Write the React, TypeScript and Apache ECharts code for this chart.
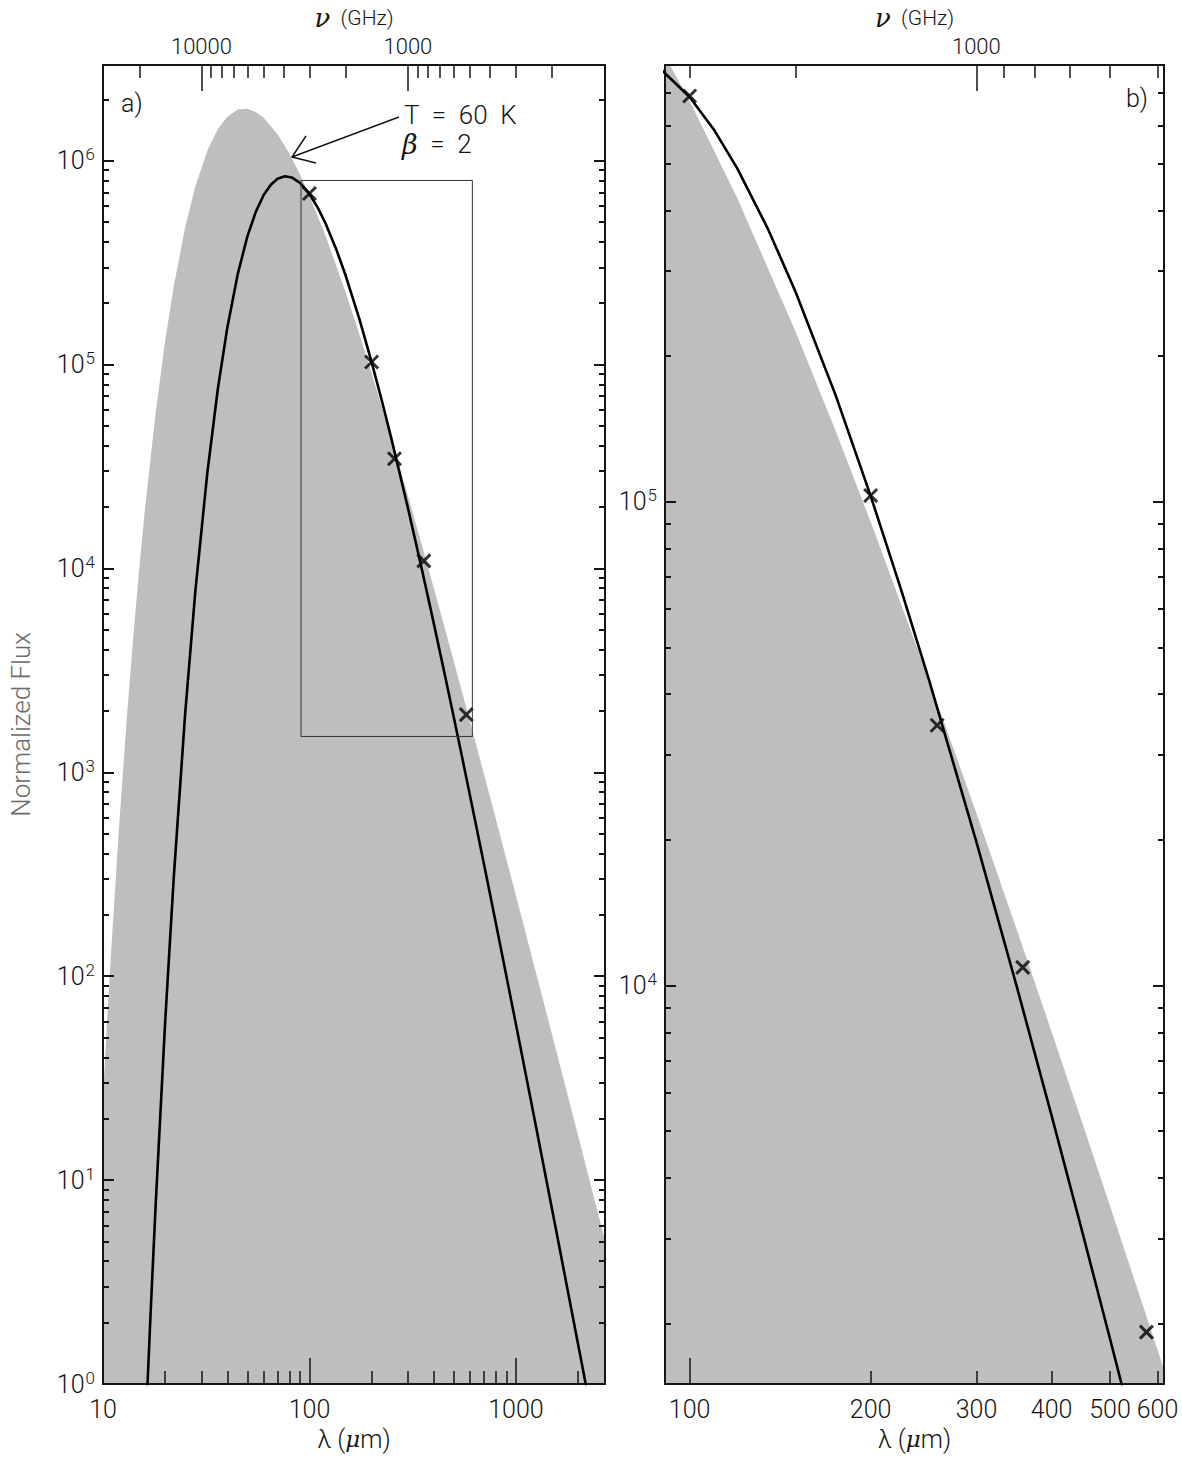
import React, { useEffect, useRef } from "react";
import * as echarts from "echarts";

// ---------- data ----------
// grey filled curve (T = 60 K, beta = 2 model)
const grayLambda = [10, 10.5, 11, 12, 13, 14, 15, 16, 18, 20, 22, 25, 28, 32, 36, 40, 45, 50, 55, 60, 70, 80, 90, 100, 120, 150, 175, 200, 250, 300, 350, 400, 450, 500, 600, 700, 800, 1000, 1500, 2000, 2700];
const grayFlux = [25.9, 63.7, 142.6, 568, 1770, 4561, 10120, 19900, 58400, 130700, 241500, 471300, 748000, 1118000, 1429000, 1644000, 1781000, 1797000, 1735000, 1623000, 1348000, 1081000, 854400, 673900, 424800, 224900, 139850, 90900, 42870, 22660, 13040, 8016, 5188, 3505, 1765, 981.4, 588.6, 248.7, 51.2, 16.53, 5.05];

// black fitted curve (Fit T = 29.3 K, beta = 3.4)
const fitLambda = [16, 17, 18, 20, 22, 25, 28, 32, 36, 40, 45, 50, 55, 60, 65, 70, 76, 82, 90, 100, 110, 120, 135, 150, 175, 200, 225, 250, 300, 350, 400, 450, 500, 550, 600, 700, 800, 1000, 1200, 1500, 1800, 2100, 2300];
const fitFlux = [0.536, 2.218, 7.65, 59.6, 301.8, 1942, 7715, 29370, 76120, 151700, 279400, 423900, 562700, 678600, 762900, 815300, 838300, 827800, 779000, 686800, 585300, 488900, 366200, 271800, 165700, 102850, 65520, 42860, 19760, 9941, 5377, 3086, 1862.6, 1172, 764.3, 355.1, 181.3, 58.1, 22.69, 7.1, 2.728, 1.213, 0.749];

// measured points (crosses)
const pointLambda = [100, 200, 258, 358, 575];
const pointFlux = [690000, 103000, 34500, 10900, 1920];

// axis ranges
const xRangeA = [10, 2700];
const yRangeA = [1, 2.95e6];
const xRangeB = [91, 615];
const yRangeB = [1500, 8e5];

// tick values
const lambdaMajorA = [10, 100, 1000];
const lambdaMinorA = [20, 30, 40, 50, 60, 70, 80, 90, 200, 300, 400, 500, 600, 700, 800, 900, 2000];
const nuMajorA = [10000, 1000];
const nuMinorA = [20000, 9000, 8000, 7000, 6000, 5000, 4000, 3000, 2000, 900, 800, 700, 600, 500, 400, 300, 200];
const fluxMajorA = [1, 10, 100, 1e3, 1e4, 1e5, 1e6];
const decadeSteps = [2, 3, 4, 5, 6, 7, 8, 9];
const fluxMinorA = fluxMajorA.flatMap((d) => decadeSteps.map((s) => s * d));

const lambdaMajorB = [100];
const lambdaLabelsB = [100, 200, 300, 400, 500, 600];
const lambdaMinorB = [200, 300, 400, 500, 600];
const nuMajorB = [1000];
const nuMinorB = [3000, 2000, 900, 800, 700, 600, 500];
const fluxMajorB = [1e4, 1e5];
const fluxMinorB = [1e3, 1e4, 1e5].flatMap((d) => decadeSteps.map((s) => s * d));

const C_LIGHT = 299792.458; // um * GHz
const lamOfNu = (nu: number) => C_LIGHT / nu;

// ---------- styles ----------
const INK = "#151515";
const GRAY = "#bebebe";
const FONT = "Roboto";
const CROSS = "path://M0,0L10,10M10,0L0,10";

const pairs = (xs: number[], ys: number[]) => xs.map((x, i) => [x, ys[i]]);

function axis(gridIndex: number, position: string, range: number[], ticks: number[], len: number, showLine: boolean, tickWidth: number, extra: any = {}) {
  return {
    type: "log",
    logBase: 10,
    gridIndex,
    position,
    min: range[0],
    max: range[1],
    axisLine: { show: showLine, onZero: false, lineStyle: { color: INK, width: 2 } },
    axisTick: { show: true, inside: true, length: len, customValues: ticks, lineStyle: { color: INK, width: tickWidth } },
    axisLabel: { show: false },
    splitLine: { show: false },
    minorTick: { show: false },
    minorSplitLine: { show: false },
    ...extra,
  };
}

const labelBase = { fontFamily: FONT, fontWeight: 300, color: INK };

const bottomLabels = (values: number[]) => ({
  show: true,
  customValues: values,
  margin: 13,
  fontSize: 25,
  ...labelBase,
  formatter: (v: number) => String(Math.round(v)),
});

const topLabels = (nus: number[]) => ({
  show: true,
  customValues: nus.map(lamOfNu),
  margin: 7,
  fontSize: 22,
  ...labelBase,
  formatter: (v: number) => String(Math.round(C_LIGHT / v / 10) * 10),
});

const powLabels = (values: number[]) => ({
  show: true,
  customValues: values,
  margin: 8,
  ...labelBase,
  formatter: (v: number) => `{b|10}{e|${Math.round(Math.log10(v))}}`,
  rich: {
    b: { fontSize: 25, fontFamily: FONT, fontWeight: 300, color: INK },
    e: { fontSize: 17, fontFamily: FONT, fontWeight: 300, color: INK, padding: [0, 0, 13, 1] },
  },
});

const lambdaName = {
  name: "{l|λ} ({m|μ}m)",
  nameLocation: "middle",
  nameGap: 42,
  nameTextStyle: {
    fontFamily: FONT,
    fontWeight: 300,
    fontSize: 25,
    color: INK,
    rich: {
      l: { fontFamily: FONT, fontWeight: 300, fontSize: 25, color: INK },
      m: { fontFamily: "DejaVu Serif", fontStyle: "italic", fontSize: 23, color: INK },
    },
  },
};

const nuName = {
  name: "{n|ν}  {g|(GHz)}",
  nameLocation: "middle",
  nameGap: 26,
  nameTextStyle: {
    fontFamily: FONT,
    fontSize: 21,
    color: INK,
    rich: {
      n: { fontFamily: "DejaVu Serif", fontStyle: "italic", fontSize: 26, color: INK },
      g: { fontFamily: FONT, fontWeight: 300, fontSize: 21, color: INK },
    },
  },
};

const xAxes = [
  // panel a
  axis(0, "bottom", xRangeA, lambdaMajorA, 26, true, 1.5, { axisLabel: bottomLabels(lambdaMajorA), ...lambdaName }),
  axis(0, "bottom", xRangeA, lambdaMinorA, 13, false, 1.5),
  axis(0, "top", xRangeA, nuMajorA.map(lamOfNu), 26, true, 1.5, { axisLabel: topLabels(nuMajorA), ...nuName }),
  axis(0, "top", xRangeA, nuMinorA.map(lamOfNu), 13, false, 1.5),
  // panel b
  axis(1, "bottom", xRangeB, lambdaMajorB, 26, true, 1.5, { axisLabel: bottomLabels(lambdaLabelsB), ...lambdaName }),
  axis(1, "bottom", xRangeB, lambdaMinorB, 13, false, 1.5),
  axis(1, "top", xRangeB, nuMajorB.map(lamOfNu), 26, true, 1.5, { axisLabel: topLabels(nuMajorB), ...nuName }),
  axis(1, "top", xRangeB, nuMinorB.map(lamOfNu), 13, false, 1.5),
];

const yAxes = [
  // panel a
  axis(0, "left", yRangeA, fluxMajorA, 11, true, 2, {
    axisLabel: powLabels(fluxMajorA),
    name: "Normalized Flux",
    nameLocation: "middle",
    nameRotate: 90,
    nameGap: 69,
    nameTextStyle: { fontFamily: FONT, fontWeight: 300, fontSize: 26, color: "#6a6a6a" },
  }),
  axis(0, "left", yRangeA, fluxMinorA, 6, false, 2),
  axis(0, "right", yRangeA, fluxMajorA, 11, true, 2),
  axis(0, "right", yRangeA, fluxMinorA, 6, false, 2),
  // panel b
  axis(1, "left", yRangeB, fluxMajorB, 11, true, 2, { axisLabel: powLabels(fluxMajorB) }),
  axis(1, "left", yRangeB, fluxMinorB, 6, false, 2),
  axis(1, "right", yRangeB, fluxMajorB, 11, true, 2),
  axis(1, "right", yRangeB, fluxMinorB, 6, false, 2),
];

function panelSeries(xi: number, yi: number, withBox: boolean) {
  const fit: any = {
    type: "line",
    xAxisIndex: xi,
    yAxisIndex: yi,
    data: pairs(fitLambda, fitFlux),
    symbol: "none",
    smooth: false,
    lineStyle: { width: 2.6, color: "#000", join: "round" },
    z: 3,
  };
  if (withBox) {
    fit.markArea = {
      silent: true,
      z: 6,
      label: { show: false },
      itemStyle: { color: "rgba(0,0,0,0)", borderColor: "#333", borderWidth: 1 },
      data: [[{ coord: [xRangeB[0], yRangeB[0]] }, { coord: [xRangeB[1], yRangeB[1]] }]],
    };
  }
  return [
    {
      type: "line",
      xAxisIndex: xi,
      yAxisIndex: yi,
      data: pairs(grayLambda, grayFlux),
      symbol: "none",
      smooth: false,
      lineStyle: { width: 0, color: GRAY },
      areaStyle: { color: GRAY, opacity: 1, origin: "start" },
      z: 0,
    },
    fit,
    {
      type: "scatter",
      xAxisIndex: xi,
      yAxisIndex: yi,
      data: pairs(pointLambda, pointFlux),
      symbol: CROSS,
      symbolSize: 13,
      itemStyle: { color: "none", borderColor: "#000", borderWidth: 3 },
      z: 4,
    },
  ];
}

const textStyle = (text: string, size: number, extra: any = {}) => ({
  text,
  fontFamily: FONT,
  fontWeight: 300,
  fontSize: size,
  fill: INK,
  align: "left",
  verticalAlign: "middle",
  ...extra,
});

const betaRich = {
  b: { fontFamily: "DejaVu Serif", fontStyle: "italic", fontSize: 27, fill: INK },
};

const graphics = [
  { type: "text", x: 121, y: 103, style: textStyle("a)", 25) },
  { type: "text", x: 1126, y: 98, style: textStyle("b)", 25) },
  { type: "text", x: 404, y: 115, style: textStyle("T  =  60  K", 26) },
  { type: "text", x: 402, y: 144, style: textStyle("{b|β}  =  2", 26, { rich: betaRich }) },
  { type: "text", x: 310, y: 1170, style: textStyle("Fit  T  =  29.3  K", 26) },
  { type: "text", x: 310, y: 1202, style: textStyle("Fit  {b|β}  =  3.4", 26, { rich: betaRich }) },
  { type: "polyline", shape: { points: [[399, 117], [292, 157]] }, style: { stroke: INK, lineWidth: 1.5, fill: "none" } },
  { type: "polyline", shape: { points: [[306, 136], [292, 157], [316, 163]] }, style: { stroke: INK, lineWidth: 1.5, fill: "none" } },
  { type: "polyline", shape: { points: [[483, 1155], [522, 1082]] }, style: { stroke: INK, lineWidth: 1.5, fill: "none" } },
  { type: "polyline", shape: { points: [[501, 1094], [522, 1082], [523, 1106]] }, style: { stroke: INK, lineWidth: 1.5, fill: "none" } },
];

const option: any = {
  animation: false,
  backgroundColor: "#ffffff",
  grid: [
    { left: 103, top: 61, width: 502, height: 1323 },
    { left: 665, top: 61, width: 499, height: 1323 },
  ],
  xAxis: xAxes,
  yAxis: yAxes,
  series: [...panelSeries(0, 0, true), ...panelSeries(4, 4, false)],
  graphic: { elements: graphics },
};

export default function App() {
  const ref = useRef<HTMLDivElement>(null);
  useEffect(() => {
    const chart = echarts.init(ref.current as HTMLDivElement, null, { renderer: "svg" });
    chart.setOption(option);
    return () => chart.dispose();
  }, []);
  return (
    <div
      ref={ref}
      style={{ position: "absolute", left: 0, top: 0, width: 1182, height: 1458, background: "#fff" }}
    />
  );
}
